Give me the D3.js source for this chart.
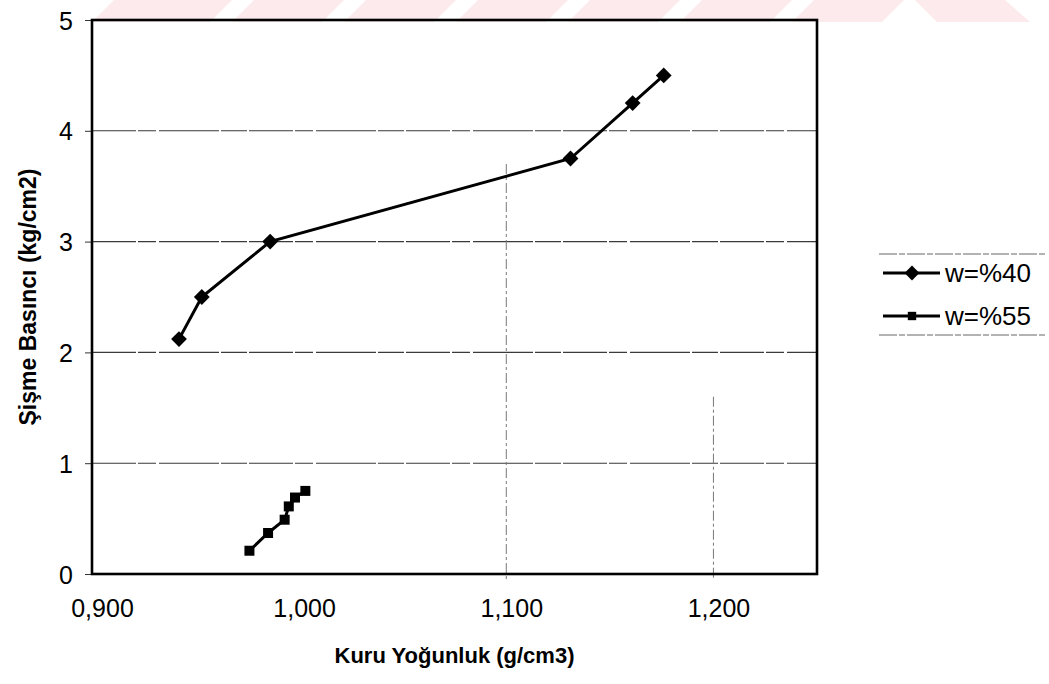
<!DOCTYPE html>
<html>
<head>
<meta charset="utf-8">
<script src="https://cdn.jsdelivr.net/npm/d3@7"></script>
<style>
  html, body { margin: 0; padding: 0; background: #fff; }
  svg { display: block; }
  text { font-family: "Liberation Sans", Arial, sans-serif; fill: #000; }
</style>
</head>
<body>
<div id="chart"></div>
<script>
// Swelling pressure vs. dry density for two water contents
const seriesNames = ["w=%40", "w=%55"];
const density40 = [0.942, 0.953, 0.986, 1.131, 1.161, 1.176];
const pressure40 = [2.12, 2.50, 3.00, 3.75, 4.25, 4.50];
const density55 = [0.976, 0.985, 0.993, 0.995, 0.998, 1.003];
const pressure55 = [0.21, 0.37, 0.49, 0.61, 0.69, 0.75];
const xTicks = [0.9, 1.0, 1.1, 1.2];
const yTicks = [0, 1, 2, 3, 4, 5];
const xTitle = "Kuru Yoğunluk (g/cm3)";
const yTitle = "Şişme Basıncı (kg/cm2)";

const W = 1049, H = 684;
const plot = { left: 92, right: 817, top: 20, bottom: 574 };

const svg = d3.select("#chart").append("svg")
  .attr("width", W).attr("height", H);

// light pink diagonal band along the top edge
const band = svg.append("g").attr("fill", "#fdeaed");
const bandH = 22, slant = 22;
const stripeStarts = [110, 232, 344, 456, 568, 680, 792];
stripeStarts.forEach((s, i) => {
  const w = i === 0 ? 100 : 90;
  const x0 = i === 0 ? 92 : s;
  band.append("path")
    .attr("d", `M${x0 + slant},0 L${s + w + slant},0 L${s + w},${bandH} L${x0},${bandH} Z`);
});
band.append("path").attr("d", `M915,0 L1005,0 L1030,${bandH} L937,${bandH} Z`);

const x = d3.scaleLinear().domain([0.9, 1.25]).range([plot.left, plot.right]);
const y = d3.scaleLinear().domain([0, 5]).range([plot.bottom, plot.top]);

// gridlines
const grid = svg.append("g");
grid.selectAll("line.h").data(yTicks.filter(v => v > 0 && v < 5)).join("line")
  .attr("x1", plot.left).attr("x2", plot.right)
  .attr("y1", d => y(d)).attr("y2", d => y(d))
  .attr("stroke", "#3a3a3a").attr("stroke-width", 1.1)
  .attr("stroke-dasharray", "44,2,18,3,60,2,26,2");
grid.selectAll("line.v").data(xTicks.filter(v => v > 1.05)).join("line")
  .attr("x1", d => x(d)).attr("x2", d => x(d))
  .attr("y1", (d, i) => i === 0 ? y(3.7) : y(1.6)).attr("y2", plot.bottom + 6)
  .attr("stroke", "#777").attr("stroke-width", 1)
  .attr("stroke-dasharray", "10,3,3,3");

// axes with outside tick marks
const yAxis = d3.axisLeft(y).tickValues(yTicks).tickSize(7).tickPadding(12).tickFormat(d3.format("d"));
const gy = svg.append("g").attr("transform", `translate(${plot.left},0)`).call(yAxis);
gy.select(".domain").remove();
gy.selectAll("text").attr("font-size", 25).attr("dy", "0.36em");
gy.selectAll("line").attr("stroke", "#333");

const fmt = v => d3.format(".3f")(v).replace(".", ",");
const xAxis = d3.axisBottom(x).tickValues(xTicks).tickSize(0).tickPadding(30).tickFormat(fmt);
const gx = svg.append("g").attr("transform", `translate(0,${plot.bottom})`).call(xAxis);
gx.select(".domain").remove();
gx.selectAll("text").attr("font-size", 25).attr("dy", "0.5em")
  .attr("dx", (d, i) => i === 0 ? 10 : 5);

// plot frame
svg.append("rect")
  .attr("x", plot.left).attr("y", plot.top)
  .attr("width", plot.right - plot.left).attr("height", plot.bottom - plot.top)
  .attr("fill", "none").attr("stroke", "#000").attr("stroke-width", 2.6);

// series
const line = d3.line().x(d => x(d[0])).y(d => y(d[1]));
const data40 = density40.map((v, i) => [v, pressure40[i]]);
const data55 = density55.map((v, i) => [v, pressure55[i]]);

svg.append("path").datum(data40).attr("d", line)
  .attr("fill", "none").attr("stroke", "#000").attr("stroke-width", 3);
svg.append("path").datum(data55).attr("d", line)
  .attr("fill", "none").attr("stroke", "#000").attr("stroke-width", 3);

const diamond = d3.symbol().type(d3.symbolSquare).size(125);
const square = d3.symbol().type(d3.symbolSquare).size(100);

svg.append("g").selectAll("path").data(data40).join("path")
  .attr("transform", d => `translate(${x(d[0])},${y(d[1])}) rotate(45)`)
  .attr("d", diamond).attr("fill", "#000");
svg.append("g").selectAll("path").data(data55).join("path")
  .attr("transform", d => `translate(${x(d[0])},${y(d[1])})`)
  .attr("d", square).attr("fill", "#000");

// axis titles
svg.append("text")
  .attr("x", (plot.left + plot.right) / 2).attr("y", 663)
  .attr("text-anchor", "middle").attr("font-size", 22).attr("font-weight", "bold")
  .text(xTitle);
svg.append("text")
  .attr("transform", `translate(36,${(plot.top + plot.bottom) / 2}) rotate(-90)`)
  .attr("text-anchor", "middle").attr("font-size", 23).attr("font-weight", "bold")
  .text(yTitle);

// legend
const lg = svg.append("g");
[254, 335].forEach(yy => {
  lg.append("line").attr("x1", 879).attr("x2", 1045).attr("y1", yy).attr("y2", yy)
    .attr("stroke", "#666").attr("stroke-width", 1).attr("stroke-dasharray", "18,2,6,2");
});
seriesNames.forEach((name, i) => {
  const ly = 273 + i * 43;
  lg.append("line").attr("x1", 883).attr("x2", 940).attr("y1", ly).attr("y2", ly)
    .attr("stroke", "#000").attr("stroke-width", 3);
  lg.append("path")
    .attr("transform", i === 0 ? `translate(912,${ly}) rotate(45)` : `translate(912,${ly})`)
    .attr("d", d3.symbol().type(d3.symbolSquare).size(i === 0 ? 110 : 70))
    .attr("fill", "#000");
  lg.append("text").attr("x", 945).attr("y", ly).attr("dy", "0.36em")
    .attr("font-size", 26).text(name);
});
</script>
</body>
</html>
